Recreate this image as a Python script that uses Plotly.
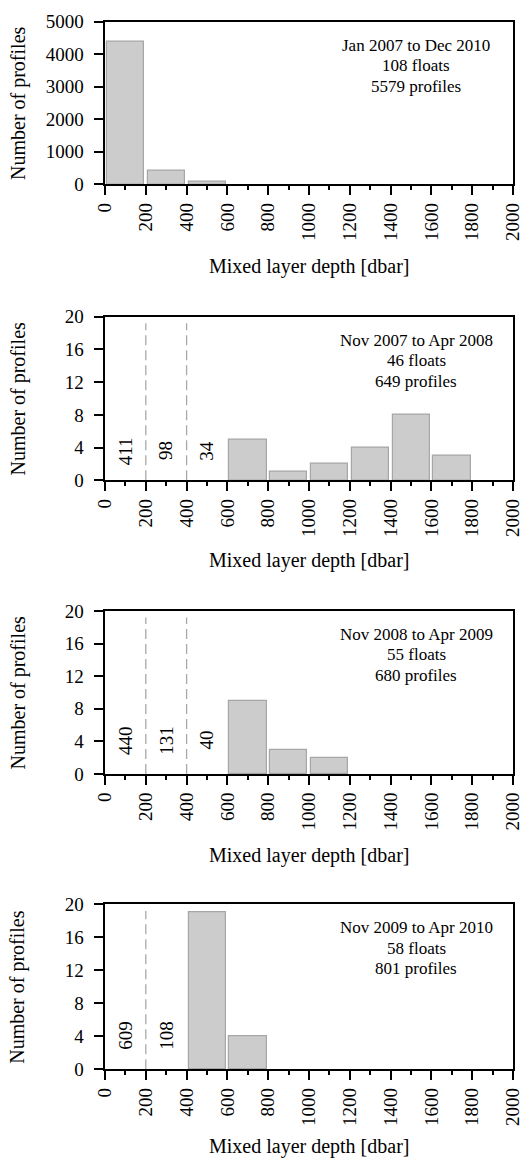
import plotly.graph_objects as go

# ---------------- data ----------------
bin_starts = [0, 200, 400, 600, 800, 1000, 1200, 1400, 1600, 1800]

counts_all = [4380, 410, 85, None, None, None, None, None, None, None]   # Jan 2007 - Dec 2010
counts_0708 = [None, None, None, 5, 1, 2, 4, 8, 3, None]                 # Nov 2007 - Apr 2008
counts_0809 = [None, None, None, 9, 3, 2, None, None, None, None]        # Nov 2008 - Apr 2009
counts_0910 = [None, None, 19, 4, None, None, None, None, None, None]    # Nov 2009 - Apr 2010

# off-scale counts written as rotated text
label_x_0708 = [100, 300, 500]
label_v_0708 = ["411", "98", "34"]
label_x_0809 = [100, 300, 500]
label_v_0809 = ["440", "131", "40"]
label_x_0910 = [100, 300]
label_v_0910 = ["609", "108"]

dash_x_0708 = [200, 400]
dash_x_0809 = [200, 400]
dash_x_0910 = [200]

info_all = ["Jan 2007 to Dec 2010", "108 floats", "5579 profiles"]
info_0708 = ["Nov 2007 to Apr 2008", "46 floats", "649 profiles"]
info_0809 = ["Nov 2008 to Apr 2009", "55 floats", "680 profiles"]
info_0910 = ["Nov 2009 to Apr 2010", "58 floats", "801 profiles"]

x_ticks = list(range(0, 2001, 200))
y_ticks_all = [0, 1000, 2000, 3000, 4000, 5000]
y_ticks_win = [0, 4, 8, 12, 16, 20]

# ---------------- layout ----------------
W, H = 525, 1158
FONT = "Liberation Serif"
PAD = "\u00a0\u200a"   # small gap between y tick labels and ticks

panels = [
    (21.7, 184.3, 82, counts_all, [0, 5000], y_ticks_all, [], [], [], info_all, None),
    (316.7, 480.3, 80, counts_0708, [0, 20], y_ticks_win, label_x_0708, label_v_0708, dash_x_0708, info_0708, 3.6),
    (611.0, 774.0, 81, counts_0809, [0, 20], y_ticks_win, label_x_0809, label_v_0809, dash_x_0809, info_0809, 4.1),
    (904.3, 1069.3, 77, counts_0910, [0, 20], y_ticks_win, label_x_0910, label_v_0910, dash_x_0910, info_0910, 4.1),
]
x_left, x_right = 105, 513

fig = go.Figure()
annotations = []
shapes = []

for i, (top, bot, xt_off, counts, yr, yt, lx, lv, dx, info, ly) in enumerate(panels, start=1):
    xa = "x" if i == 1 else f"x{i}"
    ya = "y" if i == 1 else f"y{i}"
    fig.add_trace(go.Bar(
        x=bin_starts, y=counts, offset=10, width=182,
        marker=dict(color="#cccccc", line=dict(color="#a6a6a6", width=1.2)),
        xaxis=xa, yaxis=ya, showlegend=False, hoverinfo="skip",
    ))
    fig.layout[("xaxis" if i == 1 else f"xaxis{i}")] = dict(
        domain=[x_left / W, x_right / W], range=[0, 2000],
        tickmode="array", tickvals=x_ticks, ticktext=[str(v) for v in x_ticks],
        tickangle=-90, anchor=ya,
    )
    fig.layout[("yaxis" if i == 1 else f"yaxis{i}")] = dict(
        domain=[1 - bot / H, 1 - top / H], range=yr,
        tickmode="array", tickvals=yt, ticktext=[str(v) + PAD for v in yt],
        anchor=xa,
    )
    for xv, txt in zip(lx, lv):
        annotations.append(dict(
            x=xv, y=ly, xref=xa, yref=ya, text=txt, textangle=-90,
            showarrow=False, font=dict(family=FONT, size=19, color="black"),
            xanchor="center", yanchor="middle",
        ))
    for xv in dx:
        shapes.append(dict(
            type="line", xref=xa, yref=ya, x0=xv, x1=xv, y0=0, y1=19.2,
            line=dict(color="#a8a8a8", width=1.3, dash="10px,5px"),
        ))
    for k, (line, off) in enumerate(zip(info, [23.3, 44.0, 64.3])):
        annotations.append(dict(
            x=1525, y=1 - off / (bot - top), xref=xa, yref=f"{ya} domain",
            text=line, showarrow=False, xanchor="center", yanchor="middle",
            font=dict(family=FONT, size=17, color="black"),
        ))
    annotations.append(dict(
        x=0.5, y=-xt_off / (bot - top), xref=f"{xa} domain", yref=f"{ya} domain",
        text="Mixed layer depth [dbar]", showarrow=False,
        xanchor="center", yanchor="middle",
        font=dict(family=FONT, size=20, color="black"),
    ))
    annotations.append(dict(
        x=-87 / (x_right - x_left), y=0.5, xref=f"{xa} domain", yref=f"{ya} domain",
        text="Number of profiles", showarrow=False, textangle=-90,
        xanchor="center", yanchor="middle",
        font=dict(family=FONT, size=20, color="black"),
    ))

fig.update_layout(
    template="none",
    width=W, height=H,
    margin=dict(l=0, r=0, t=0, b=0),
    paper_bgcolor="white", plot_bgcolor="white",
    annotations=annotations, shapes=shapes,
    bargap=0,
)
fig.update_xaxes(
    showline=True, linecolor="black", linewidth=2, mirror=True,
    showgrid=False, zeroline=False, automargin=False,
    ticks="outside", tickcolor="#000000", tickwidth=2, ticklen=9,
    tickfont=dict(family=FONT, size=19, color="black"),
    minor=dict(dtick=100, tick0=0, ticks="outside", ticklen=4,
               tickwidth=2, tickcolor="#000000", showgrid=False),
)
fig.update_yaxes(
    showline=True, linecolor="black", linewidth=2, mirror=True,
    showgrid=False, zeroline=False, automargin=False,
    ticks="outside", tickcolor="#000000", tickwidth=2, ticklen=9,
    tickfont=dict(family=FONT, size=19, color="black"),
)

fig.write_html("out.html")
